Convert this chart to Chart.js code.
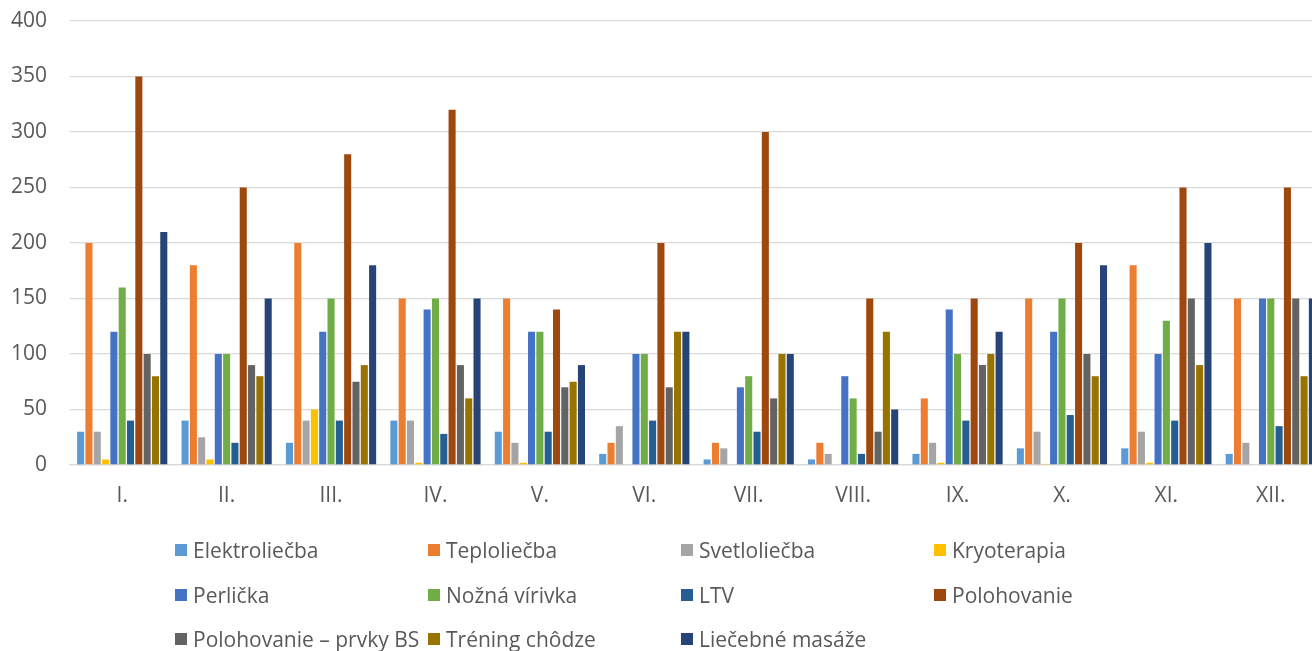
<!DOCTYPE html>
<html lang="sk">
<head>
<meta charset="utf-8">
<title>Procedúry podľa mesiacov</title>
<script src="https://cdn.jsdelivr.net/npm/chart.js@4/dist/chart.umd.min.js"></script>
<style>
    html, body { margin: 0; padding: 0; background: #fff; overflow: hidden; }
    #wrap { position: relative; width: 1312px; height: 651px; overflow: hidden; }
    #box { position: absolute; left: 0; top: 0; width: 1330px; height: 520px; }
    #legenda { position: absolute; left: 0; top: 0; width: 1312px; height: 651px; pointer-events: none; }
    .item { position: absolute; display: flex; align-items: center; font-family: 'Open Sans', sans-serif; font-size: 21px; color: #595959; white-space: nowrap; height: 26px; }
    .item span.sq { display: inline-block; width: 12px; height: 12px; margin-right: 6px; }
</style>
</head>
<body>
<div id="wrap">
    <div id="box"><canvas id="graf"></canvas></div>
    <div id="legenda"></div>
</div>
<script>
// Mesiace
let mesiace = ['I.', 'II.', 'III.', 'IV.', 'V.', 'VI.', 'VII.', 'VIII.', 'IX.', 'X.', 'XI.', 'XII.'];

// Hodnoty pre jednotlivé procedúry
let elektroliecba = [30, 40, 20, 40, 30, 10, 5, 5, 10, 15, 15, 10];
let teploliecba = [200, 180, 200, 150, 150, 20, 20, 20, 60, 150, 180, 150];
let svetloliecba = [30, 25, 40, 40, 20, 35, 15, 10, 20, 30, 30, 20];
let kryoterapia = [5, 5, 50, 2, 2, 0, 0, 0, 2, 1, 2, 0];
let perlicka = [120, 100, 120, 140, 120, 100, 70, 80, 140, 120, 100, 150];
let noznaVirivka = [160, 100, 150, 150, 120, 100, 80, 60, 100, 150, 130, 150];
let ltv = [40, 20, 40, 28, 30, 40, 30, 10, 40, 45, 40, 35];
let polohovanie = [350, 250, 280, 320, 140, 200, 300, 150, 150, 200, 250, 250];
let polohovanieBS = [100, 90, 75, 90, 70, 70, 60, 30, 90, 100, 150, 150];
let treningChodze = [80, 80, 90, 60, 75, 120, 100, 120, 100, 80, 90, 80];
let liecebneMasaze = [210, 150, 180, 150, 90, 120, 100, 50, 120, 180, 200, 150];

// Os Y
let yTicks = [0, 50, 100, 150, 200, 250, 300, 350, 400];

let serie = [
    { label: 'Elektroliečba', data: elektroliecba, color: '#5B9BD5' },
    { label: 'Teploliečba', data: teploliecba, color: '#ED7D31' },
    { label: 'Svetloliečba', data: svetloliecba, color: '#A5A5A5' },
    { label: 'Kryoterapia', data: kryoterapia, color: '#FFC000' },
    { label: 'Perlička', data: perlicka, color: '#4472C4' },
    { label: 'Nožná vírivka', data: noznaVirivka, color: '#70AD47' },
    { label: 'LTV', data: ltv, color: '#255E91' },
    { label: 'Polohovanie', data: polohovanie, color: '#9E480E' },
    { label: 'Polohovanie – prvky BS', data: polohovanieBS, color: '#636363' },
    { label: 'Tréning chôdze', data: treningChodze, color: '#997300' },
    { label: 'Liečebné masáže', data: liecebneMasaze, color: '#264478' }
];

let font = { family: "'Open Sans', sans-serif", size: 21 };

let graf = new Chart(document.getElementById('graf'), {
    type: 'bar',
    data: {
        labels: mesiace,
        datasets: serie.map(s => ({
            label: s.label,
            data: s.data,
            backgroundColor: s.color,
            borderWidth: 0,
            barPercentage: 0.85,
            categoryPercentage: 0.876
        }))
    },
    options: {
        responsive: true,
        maintainAspectRatio: false,
        animation: false,
        layout: { padding: { left: 0, right: 7, top: 21, bottom: 0 } },
        plugins: {
            legend: { display: false },
            tooltip: { enabled: false }
        },
        scales: {
            x: {
                grid: { display: false, drawTicks: false },
                border: { display: true, color: '#D9D9D9', width: 1.3 },
                ticks: { color: '#595959', font: font, padding: 18, maxRotation: 0, autoSkip: false },
                afterFit: scale => { scale.height = 55; }
            },
            y: {
                min: 0,
                max: 400,
                afterBuildTicks: scale => { scale.ticks = yTicks.map(v => ({ value: v })); },
                grid: { color: '#D9D9D9', lineWidth: 1.3, drawTicks: false },
                border: { display: false },
                ticks: { color: '#595959', font: font, padding: 23 },
                afterFit: scale => {
                    scale.width = 70;
                    // nech padding popiskov neposúva hornú hranu grafu
                    scale.paddingTop = 0;
                    scale.paddingBottom = 0;
                }
            }
        }
    }
});

// Legenda v mriežke 4 stĺpce x 3 riadky
let legenda = document.getElementById('legenda');
let stlpce = [175, 428, 681, 934];
let riadky = [550, 595, 639];
serie.forEach((s, i) => {
    let el = document.createElement('div');
    el.className = 'item';
    el.style.left = stlpce[i % 4] + 'px';
    el.style.top = (riadky[Math.floor(i / 4)] - 13) + 'px';
    el.innerHTML = `<span class="sq" style="background:${s.color}"></span>${s.label}`;
    legenda.appendChild(el);
});
</script>
</body>
</html>
